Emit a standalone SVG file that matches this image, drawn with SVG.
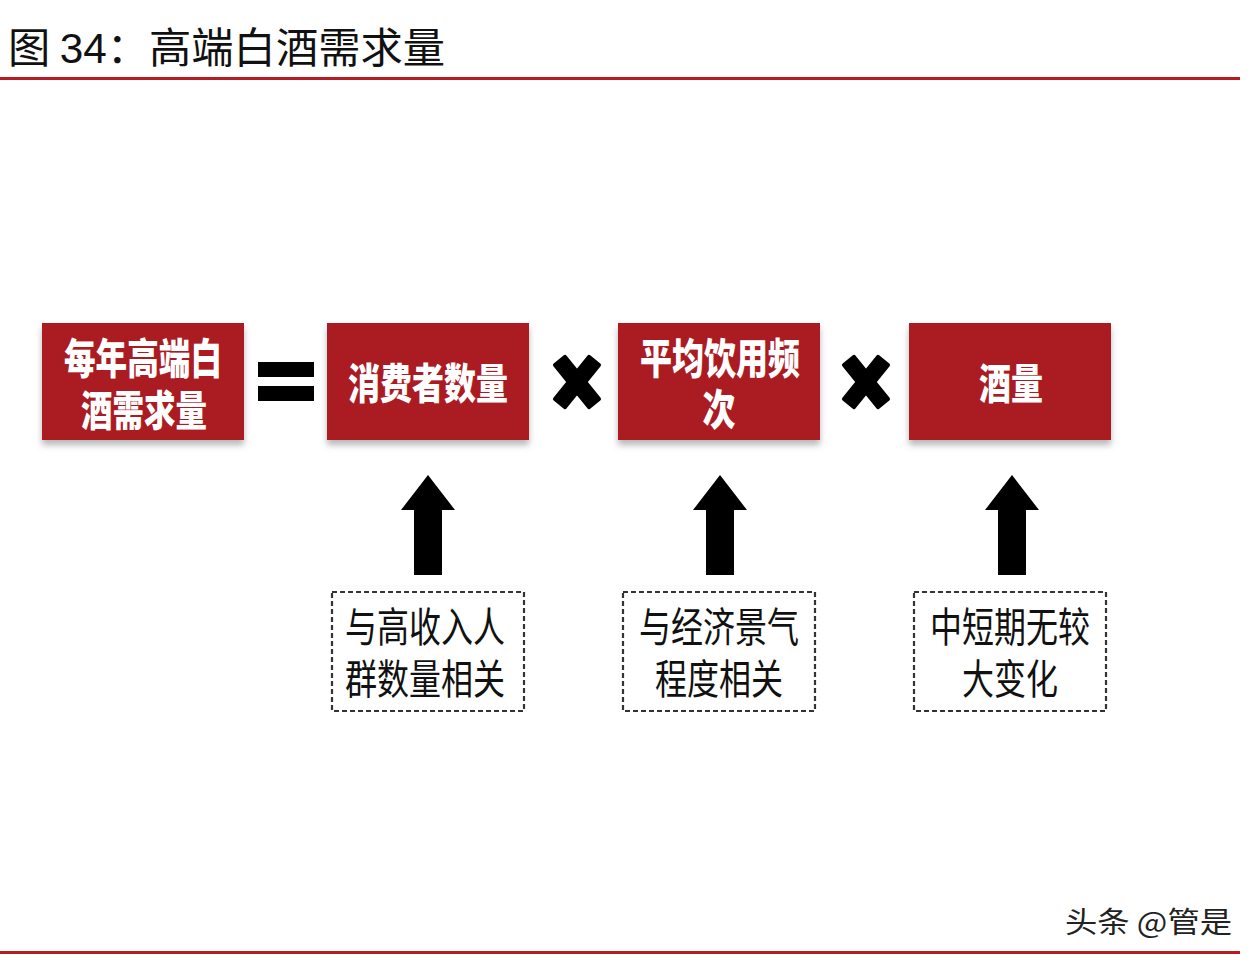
<svg xmlns="http://www.w3.org/2000/svg" width="1260" height="966" viewBox="0 0 1260 966">
<style>
.title{font-family:"Noto Sans CJK SC","Liberation Sans",sans-serif;font-size:42px;fill:#111;}
.box{fill:#ab1c24;}
.btxt{font-family:"Noto Sans CJK SC",sans-serif;font-size:42px;font-weight:900;fill:#fff;}
.dbox{fill:none;stroke:#333;stroke-width:2.2;stroke-dasharray:5,3;}
.dtxt{font-family:"Noto Sans CJK SC",sans-serif;font-size:41px;font-weight:400;fill:#111;}
.sym{fill:#000;}
.wm{font-family:"Noto Sans CJK SC",sans-serif;font-size:29px;fill:#222;}
</style>
<defs>
<filter id="sh" x="-10%" y="-10%" width="120%" height="140%">
<feDropShadow dx="0" dy="5" stdDeviation="3" flood-color="#888" flood-opacity="0.6"/>
</filter>
<polygon id="arrow" points="0,0 27,35 14,35 14,100 -14,100 -14,35 -27,35"/>
<g id="cross">
<rect x="-29" y="-8.5" width="58" height="17" rx="2" transform="rotate(51)"/>
<rect x="-29" y="-8.5" width="58" height="17" rx="2" transform="rotate(-51)"/>
</g>
</defs>
<rect width="1260" height="966" fill="#fff"/>
<g id="title">
<text class="title" x="8" y="63" textLength="437" lengthAdjust="spacingAndGlyphs">图 <tspan font-family="Liberation Sans">34</tspan>：高端白酒需求量</text>
<rect x="0" y="77" width="1240" height="3" fill="#b81c22"/>
</g>
<g id="n1">
<rect class="box" x="42" y="323" width="202" height="117" filter="url(#sh)"/>
<text class="btxt" x="143" y="374" text-anchor="middle" textLength="158" lengthAdjust="spacingAndGlyphs">每年高端白</text>
<text class="btxt" x="144" y="426" text-anchor="middle" textLength="126" lengthAdjust="spacingAndGlyphs">酒需求量</text>
</g>
<g id="eq">
<rect class="sym" x="258" y="362" width="56" height="15"/>
<rect class="sym" x="258" y="386" width="56" height="15"/>
</g>
<g id="n2">
<rect class="box" x="327" y="323" width="202" height="117" filter="url(#sh)"/>
<text class="btxt" x="428" y="399" text-anchor="middle" textLength="160" lengthAdjust="spacingAndGlyphs">消费者数量</text>
</g>
<g id="x1" class="sym"><use href="#cross" x="577" y="382"/></g>
<g id="n3">
<rect class="box" x="618" y="323" width="202" height="117" filter="url(#sh)"/>
<text class="btxt" x="720" y="374" text-anchor="middle" textLength="160" lengthAdjust="spacingAndGlyphs">平均饮用频</text>
<text class="btxt" x="719" y="425" text-anchor="middle" textLength="33" lengthAdjust="spacingAndGlyphs">次</text>
</g>
<g id="x2" class="sym"><use href="#cross" x="866" y="382"/></g>
<g id="n4">
<rect class="box" x="909" y="323" width="202" height="117" filter="url(#sh)"/>
<text class="btxt" x="1011" y="399" text-anchor="middle" textLength="64" lengthAdjust="spacingAndGlyphs">酒量</text>
</g>
<g id="connectors">
<use href="#arrow" x="428" y="475"/>
<use href="#arrow" x="720" y="475"/>
<use href="#arrow" x="1012" y="475"/>
</g>
<g id="d1">
<rect class="dbox" x="332" y="592" width="192" height="119"/>
<text class="dtxt" x="425" y="642" text-anchor="middle" textLength="160" lengthAdjust="spacingAndGlyphs">与高收入人</text>
<text class="dtxt" x="425" y="694" text-anchor="middle" textLength="160" lengthAdjust="spacingAndGlyphs">群数量相关</text>
</g>
<g id="d2">
<rect class="dbox" x="623" y="592" width="192" height="119"/>
<text class="dtxt" x="719" y="642" text-anchor="middle" textLength="160" lengthAdjust="spacingAndGlyphs">与经济景气</text>
<text class="dtxt" x="719" y="694" text-anchor="middle" textLength="128" lengthAdjust="spacingAndGlyphs">程度相关</text>
</g>
<g id="d3">
<rect class="dbox" x="914" y="592" width="192" height="119"/>
<text class="dtxt" x="1010" y="642" text-anchor="middle" textLength="160" lengthAdjust="spacingAndGlyphs">中短期无较</text>
<text class="dtxt" x="1010" y="694" text-anchor="middle" textLength="96" lengthAdjust="spacingAndGlyphs">大变化</text>
</g>
<g id="footer">
<text class="wm" x="1065" y="933" textLength="167" lengthAdjust="spacingAndGlyphs">头条 @管是</text>
<rect x="0" y="951" width="1240" height="3" fill="#b81c22"/>
</g>
</svg>
